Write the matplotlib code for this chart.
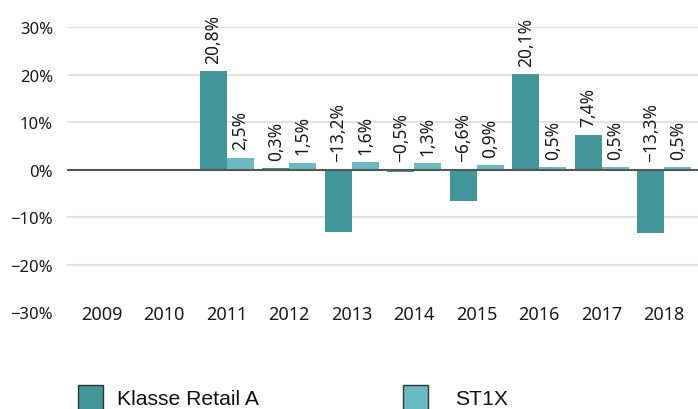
import matplotlib
matplotlib.use("Agg")
import matplotlib.pyplot as plt
import numpy as np
from matplotlib.patches import Rectangle

years = ["2009", "2010", "2011", "2012", "2013", "2014", "2015", "2016", "2017", "2018"]
klasse_retail_a = [np.nan, np.nan, 20.8, 0.3, -13.2, -0.5, -6.6, 20.1, 7.4, -13.3]
st1x = [np.nan, np.nan, 2.5, 1.5, 1.6, 1.3, 0.9, 0.5, 0.5, 0.5]
series_names = ["Klasse Retail A", "ST1X"]
yticks = [-30, -20, -10, 0, 10, 20, 30]

dark = "#42979a"
light = "#6bbac3"

plt.rcParams['font.family'] = ['Noto Sans', 'DejaVu Sans']

fig = plt.figure(figsize=(6.98, 4.10), dpi=100)
ax = fig.add_axes([67/698, 0.2366, 1 - 67/698, 0.931 - 0.2366])

x = np.arange(len(years))
w = 0.432
ax.bar(x - w/2, klasse_retail_a, width=w, color=dark, zorder=3)
ax.bar(x + w/2, st1x, width=w, color=light, zorder=3)

def fmt(v):
    s = f"{v:.1f}".replace('.', ',').replace('-', '\u2212')
    return s + '%'

for xs, vals in ((x - w/2, klasse_retail_a), (x + w/2, st1x)):
    for xi, v in zip(xs, vals):
        if np.isnan(v):
            continue
        ax.annotate(fmt(v), xy=(xi, max(v, 0)), xytext=(0, 6), textcoords='offset points',
                    rotation=90, ha='center', va='bottom', fontsize=12.5, color='#1a1a1a')

ax.set_xlim(-0.555, 9.54)
ax.set_ylim(-30, 30)
ax.set_yticks(yticks)
ax.set_yticklabels([f"{t}%".replace('-', '\u2212') for t in yticks], fontsize=12, color='#1a1a1a')
ax.set_xticks(x)
ax.set_xticklabels(years, fontsize=13, color='#1a1a1a')
ax.tick_params(axis='y', length=0, pad=10)
ax.tick_params(axis='x', length=0, pad=-5)
for s in ax.spines.values():
    s.set_visible(False)
ax.yaxis.grid(True, color='#e2e2e2', linewidth=1.5, zorder=0)
ax.set_axisbelow(True)
ax.get_ygridlines()[0].set_visible(False)
ax.axhline(0, color='#555555', linewidth=1.5, zorder=4)

# legend
W, H = 698, 410
for (px, tx), name, c in zip(((78, 117), (403, 455)), series_names, (dark, light)):
    fig.patches.append(Rectangle((px/W, (H-413)/H), 25/W, 27/H, transform=fig.transFigure,
                                 facecolor=c, edgecolor='#333333', linewidth=1.0))
    fig.text(tx/W, (H-405)/H, name, fontsize=15.2, family='Liberation Sans',
             va='baseline', ha='left', color='#111111')

fig.savefig("out.png", dpi=100)
